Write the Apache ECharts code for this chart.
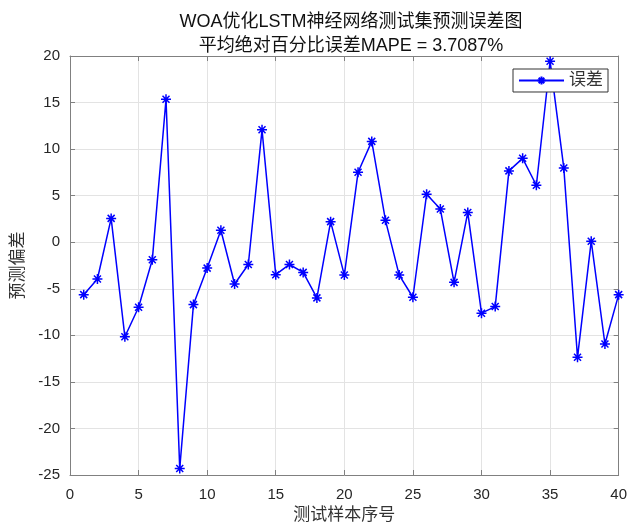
<!DOCTYPE html>
<html><head><meta charset="utf-8">
<script src="https://cdn.jsdelivr.net/npm/echarts@6/dist/echarts.min.js"></script>
<style>html,body{margin:0;padding:0;background:#fff}#c{width:630px;height:531px}</style>
</head><body><div id="c"></div>
<script>
const sampleIndex = Array.from({length: 40}, (_, i) => i + 1);
const errorValues = [-5.63, -3.95, 2.56, -10.15, -6.98, -1.89, 15.35, -24.3, -6.7, -2.78,
  1.28, -4.49, -2.39, 12.07, -3.49, -2.39, -3.24, -5.98, 2.21, -3.53,
  7.51, 10.83, 2.35, -3.53, -5.91, 5.16, 3.56, -4.31, 3.2, -7.62,
  -6.91, 7.66, 9.01, 6.12, 19.44, 7.98, -12.36, 0.11, -10.93, -5.63];
const titleLines = ['WOA优化LSTM神经网络测试集预测误差图', '平均绝对百分比误差MAPE = 3.7087%'];
const seriesName = '误差';
const xName = '测试样本序号';
const yName = '预测偏差';

const star = 'path://M0,-10L0,10M-10,0L10,0M-7,-7L7,7M-7,7L7,-7';
const sans = 'Liberation Sans, Arial, Noto Sans CJK SC, sans-serif';
const cjk = 'Liberation Sans, Noto Sans CJK SC, sans-serif';
const axisLineStyle = {color: '#808080', width: 1};
const baseX = {
  type: 'value', min: 0, max: 40, interval: 5,
  axisLine: {show: true, onZero: false, lineStyle: axisLineStyle},
  axisTick: {show: true, inside: true, length: 5, lineStyle: axisLineStyle},
};
const baseY = {
  type: 'value', min: -25, max: 20, interval: 5,
  axisLine: {show: true, onZero: false, lineStyle: axisLineStyle},
  axisTick: {show: true, inside: true, length: 5, lineStyle: axisLineStyle},
};
const chart = echarts.init(document.getElementById('c'));
chart.setOption({
  animation: false,
  backgroundColor: '#fff',
  title: {
    text: titleLines.join('\n'), left: 346, top: 5, textAlign: 'center',
    textStyle: {fontFamily: cjk, fontSize: 18, fontWeight: 'normal', color: '#111', lineHeight: 24}
  },
  legend: {
    data: [seriesName],
    right: 22, top: 69, orient: 'vertical',
    backgroundColor: '#fff', borderColor: '#333', borderWidth: 1,
    padding: [3, 5, 3, 5],
    itemWidth: 45, itemHeight: 10, itemGap: 6,
    textStyle: {fontFamily: cjk, fontSize: 17, color: '#333'}
  },
  grid: {left: 70, right: 9, top: 56, bottom: 56, containLabel: false},
  xAxis: [
    Object.assign({}, baseX, {
      position: 'bottom',
      name: xName, nameLocation: 'middle', nameGap: 31,
      nameTextStyle: {fontFamily: cjk, fontSize: 17, color: '#333'},
      axisLabel: {fontFamily: sans, fontSize: 15, color: '#262626', margin: 12},
      splitLine: {show: true, lineStyle: {color: '#e3e3e3', width: 1}}
    }),
    Object.assign({}, baseX, {position: 'top', axisLabel: {show: false}, splitLine: {show: false}})
  ],
  yAxis: [
    Object.assign({}, baseY, {
      position: 'left',
      name: yName, nameLocation: 'middle', nameGap: 43, nameRotate: 90,
      nameTextStyle: {fontFamily: cjk, fontSize: 17, color: '#333'},
      axisLabel: {fontFamily: sans, fontSize: 15, color: '#262626', margin: 10},
      splitLine: {show: true, lineStyle: {color: '#e3e3e3', width: 1}}
    }),
    Object.assign({}, baseY, {position: 'right', axisLabel: {show: false}, splitLine: {show: false}})
  ],
  series: [{
    name: seriesName, type: 'line',
    data: sampleIndex.map((x, i) => [x, errorValues[i]]),
    symbol: star, symbolSize: 10, showAllSymbol: true,
    lineStyle: {color: '#0000ff', width: 1.5},
    itemStyle: {color: '#0000ff', borderColor: '#0000ff', borderWidth: 1.5},
    clip: false
  }]
});
</script></body></html>
